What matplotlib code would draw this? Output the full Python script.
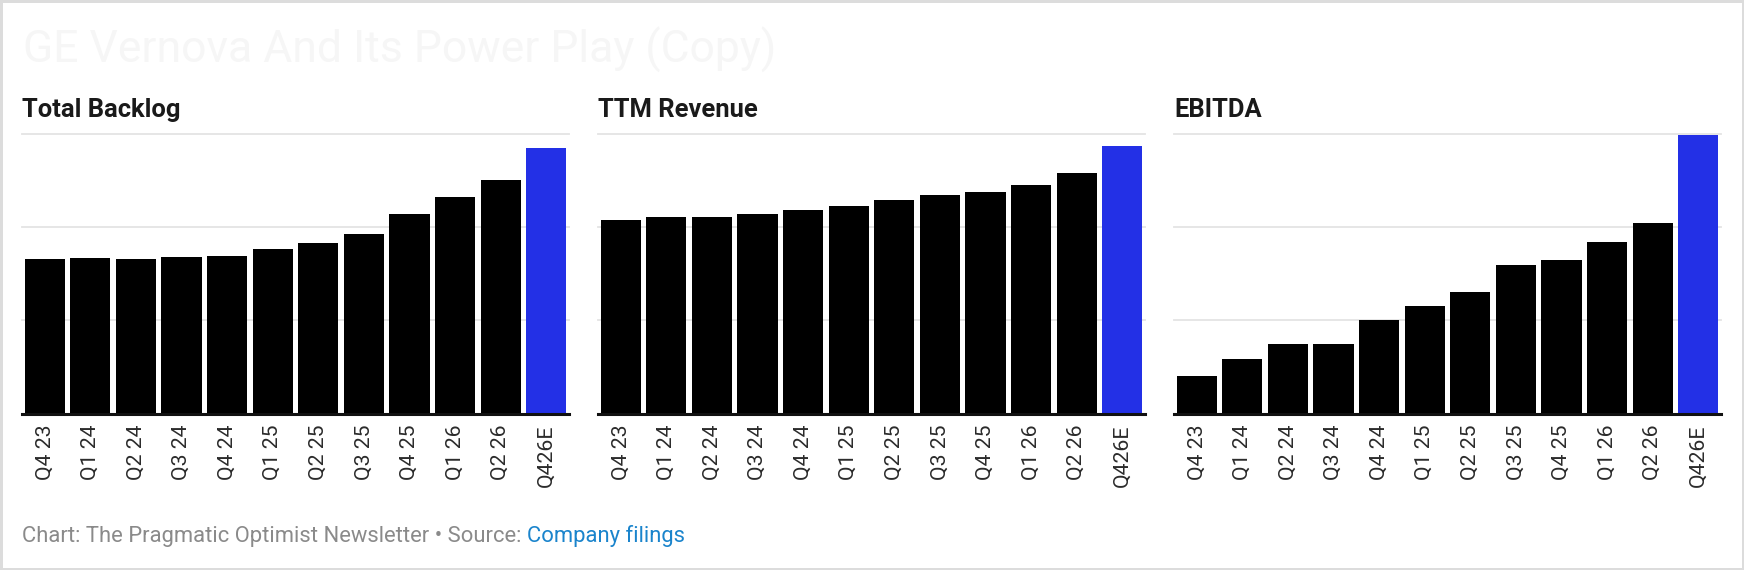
import matplotlib
matplotlib.use("Agg")
import matplotlib.pyplot as plt
from matplotlib.patches import Rectangle

plt.rcParams['font.family'] = ['Roboto', 'DejaVu Sans']

quarters = ["Q4 23", "Q1 24", "Q2 24", "Q3 24", "Q4 24", "Q1 25",
            "Q2 25", "Q3 25", "Q4 25", "Q1 26", "Q2 26", "Q426E"]

# $B
backlog = [116.0, 117.0, 115.8, 117.5, 118.7, 123.3, 128.5, 135.0, 150.0, 163.0, 175.8, 199.8]
ttm_revenue = [33.2, 33.7, 33.7, 34.3, 34.9, 35.7, 36.6, 37.6, 38.0, 39.3, 41.3, 46.0]
ebitda = [0.60, 0.88, 1.125, 1.115, 1.51, 1.74, 1.95, 2.40, 2.47, 2.77, 3.07, 4.48]

panel_titles = ["Total Backlog", "TTM Revenue", "EBITDA"]
panel_data = [backlog, ttm_revenue, ebitda]
grid_steps = [70, 16, 1.5]

W, H = 1744, 570
fig = plt.figure(figsize=(W / 100, H / 100), dpi=100)
fig.patch.set_facecolor("white")

lefts = [22, 598, 1174]
ax_w = 547
bottom_px = 413.7
top_px = 134

bar_colors = ["#000000"] * 11 + ["#2330e6"]

for i in range(3):
    ax = fig.add_axes([lefts[i] / W, (H - bottom_px) / H, ax_w / W, (bottom_px - top_px) / H])
    step = grid_steps[i]
    ax.set_ylim(0, 3 * step)
    ax.set_xlim(-0.5, len(quarters) - 0.5)
    for k in (1, 2, 3):
        ax.axhline(k * step, color="#e4e4e4", lw=1.3, zorder=0, clip_on=False)
    ax.bar(range(len(quarters)), panel_data[i], width=0.88, color=bar_colors, zorder=2)
    ax.axhline(0, color="#111111", lw=2.2, zorder=3, clip_on=False)
    for s in ax.spines.values():
        s.set_visible(False)
    ax.set_yticks([])
    ax.set_xticks(range(len(quarters)))
    ax.set_xticklabels(quarters, rotation=90, fontsize=15.3, color="#2b2b2b")
    ax.tick_params(axis="x", length=0, pad=8)
    ax.set_facecolor("none")

    fig.text(lefts[i] / W, (H - 117.3) / H, panel_titles[i], fontsize=18.4, fontweight="bold",
             color="#1a1a1a", va="baseline", ha="left")

# faint headline
fig.text(23 / W, (H - 63) / H, "GE Vernova And Its Power Play (Copy)", fontsize=32,
         color="#f6f6f6", va="baseline", ha="left")

# footer
renderer = fig.canvas.get_renderer()
t1 = fig.text(22 / W, (H - 542) / H, "Chart: The Pragmatic Optimist Newsletter \u2022 Source: ",
              fontsize=15.8, color="#8a8a8a", va="baseline", ha="left")
bb = t1.get_window_extent(renderer=renderer)
fig.text(bb.x1 / W, (H - 542) / H, "Company filings", fontsize=15.8, color="#1a84cc",
         va="baseline", ha="left")

# outer frame
fig.patches.append(Rectangle((0, 0), 1, 1, transform=fig.transFigure, fill=False,
                             edgecolor="#dcdcdc", lw=3.6, zorder=10))

fig.savefig("out.png", dpi=100, facecolor="white")
